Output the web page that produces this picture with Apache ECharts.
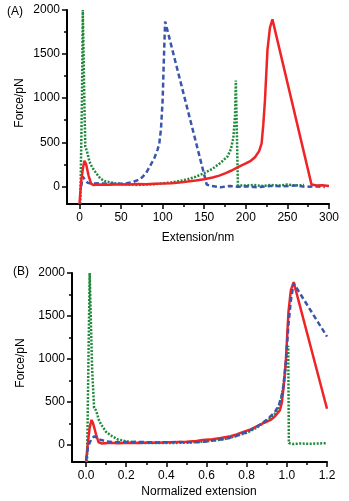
<!DOCTYPE html>
<html><head><meta charset="utf-8">
<script src="https://cdn.jsdelivr.net/npm/echarts@6/dist/echarts.min.js"></script>
<style>html,body{margin:0;padding:0;background:#fff}#c{width:349px;height:501px}</style>
</head><body><div id="c"></div>
<script>
// Panel A: extension (nm) vs force (pN)
const redA = [[0,-200],[2,50],[4,200],[6,290],[8,250],[11,120],[14,30],[17,15],[25,22],[35,18],[50,25],[60,22],[70,27],[80,25],[90,30],[100,32],[110,36],[120,45],[130,55],[140,66],[150,80],[160,100],[168,122],[175,148],[183,180],[190,216],[200,260],[206,290],[211,330],[216,400],[219,488],[221,700],[223,977],[226,1545],[229,1800],[232,1894],[279,20],[285,10],[292,12],[300,5]];
const blueA = [[2,0],[4,110],[7,70],[10,40],[15,30],[25,35],[35,28],[45,32],[55,30],[60,40],[64,48],[70,70],[75,100],[80,150],[84,216],[90,320],[94,420],[96,490],[98,650],[100,980],[101,1300],[102,1600],[103,1870],[153,20],[158,5],[170,-10],[180,5],[190,-5],[200,0],[215,-10],[230,5],[245,0],[260,10],[272,-5],[285,0],[295,-8]];
const greenA = [[1,-200],[3,1000],[4,2000],[6,900],[7,450],[9,400],[12,280],[15,220],[20,150],[25,90],[30,60],[40,40],[50,25],[60,20],[70,15],[80,20],[90,25],[100,35],[110,45],[120,60],[130,80],[140,110],[150,150],[160,200],[170,270],[178,340],[182,420],[185,550],[187,800],[188,1200],[190,1200],[190.5,10],[200,10],[210,15],[220,5],[230,15],[240,10],[250,20],[260,10],[270,15]];
// Panel B: normalized extension vs force (pN)
const redB = [[0,-200],[0.008,0],[0.018,200],[0.027,290],[0.035,250],[0.05,120],[0.062,30],[0.08,15],[0.12,25],[0.16,18],[0.22,25],[0.27,22],[0.31,28],[0.36,25],[0.4,30],[0.45,32],[0.5,35],[0.55,45],[0.58,55],[0.63,66],[0.67,80],[0.72,100],[0.75,122],[0.78,148],[0.82,180],[0.85,216],[0.89,260],[0.92,290],[0.94,330],[0.965,400],[0.975,488],[0.985,700],[0.995,977],[1.008,1545],[1.02,1800],[1.034,1894],[1.2,420]];
const blueB = [[0,-180],[0.01,-20],[0.025,60],[0.04,100],[0.07,60],[0.1,40],[0.15,30],[0.25,35],[0.35,28],[0.45,32],[0.55,30],[0.6,40],[0.65,55],[0.7,72],[0.75,105],[0.8,150],[0.85,210],[0.9,290],[0.94,380],[0.96,460],[0.98,620],[0.995,960],[1.008,1400],[1.02,1680],[1.034,1880],[1.2,1260]];
const greenB = [[0.005,-200],[0.012,1000],[0.018,2000],[0.03,900],[0.04,430],[0.05,400],[0.065,280],[0.08,220],[0.1,150],[0.13,100],[0.16,60],[0.2,40],[0.25,25],[0.3,20],[0.4,20],[0.5,25],[0.6,40],[0.7,70],[0.8,140],[0.85,200],[0.9,280],[0.95,380],[0.97,500],[0.99,800],[1.0,1050],[1.007,1150],[1.01,20],[1.03,10],[1.07,15],[1.12,12],[1.2,20]];
// Tick labels
const xTicksA = [0,50,100,150,200,250,300];
const xMinorA = [25,75,125,175,225,275];
const xTicksB = [0,0.2,0.4,0.6,0.8,1.0,1.2];
const xMinorB = [0.1,0.3,0.5,0.7,0.9,1.1];
const yTicks = [0,500,1000,1500,2000];
const yMinor = [250,750,1250,1750];

const FONT = 'Liberation Sans, Arial, sans-serif';
const RED = '#ee2426', BLUE = '#3a55ae', GREEN = '#1f8a3c';
const axisLine = {show:true, onZero:false, lineStyle:{color:'#000', width:2}};
const noLine = {show:false, onZero:false};
const lbl = {color:'#000', fontSize:12, fontFamily:FONT};

function xAxes(gi, min, max, major, minor, fmt){
  return [
    {type:'value', gridIndex:gi, min, max, position:'bottom', splitLine:{show:false}, axisLine,
     axisTick:{show:true, customValues:major, length:5, lineStyle:{color:'#000',width:1.5}},
     axisLabel:Object.assign({customValues:major, margin:8, formatter:fmt}, lbl)},
    {type:'value', gridIndex:gi, min, max, position:'bottom', splitLine:{show:false}, axisLine:noLine,
     axisTick:{show:true, customValues:minor, length:3, lineStyle:{color:'#000',width:1.5}},
     axisLabel:{show:false}}
  ];
}
function yAxes(gi){
  return [
    {type:'value', gridIndex:gi, min:-200, max:2000, position:'left', splitLine:{show:false}, axisLine,
     axisTick:{show:true, customValues:yTicks, length:5, lineStyle:{color:'#000',width:1.5}},
     axisLabel:Object.assign({customValues:yTicks, margin:7, formatter:v=>String(v)}, lbl)},
    {type:'value', gridIndex:gi, min:-200, max:2000, position:'left', splitLine:{show:false}, axisLine:noLine,
     axisTick:{show:true, customValues:yMinor, length:3, lineStyle:{color:'#000',width:1.5}},
     axisLabel:{show:false}}
  ];
}
function ser(data, xi, yi, color, type, width, z){
  return {type:'line', data, xAxisIndex:xi, yAxisIndex:yi, showSymbol:false, symbol:'none', silent:true, z,
    lineStyle:{color, width, type}, animation:false};
}

const chart = echarts.init(document.getElementById('c'), null, {renderer:'canvas'});
chart.setOption({
  animation:false,
  backgroundColor:'#fff',
  grid:[
    {left:67, top:10, width:262, height:194},
    {left:72, top:273, width:255, height:189}
  ],
  xAxis:[].concat(
    xAxes(0,-15,300,xTicksA,xMinorA,v=>String(v)),
    xAxes(1,-0.07,1.2,xTicksB,xMinorB,v=>v.toFixed(1))
  ),
  yAxis:[].concat(yAxes(0), yAxes(1)),
  series:[
    ser(greenA,0,0,GREEN,[2,1.5],2.5,3),
    ser(blueA,0,0,BLUE,[5,3],2.5,4),
    ser(redA,0,0,RED,'solid',2.5,5),
    ser(greenB,2,2,GREEN,[2,1.5],2.5,3),
    ser(redB,2,2,RED,'solid',2.5,4),
    ser(blueB,2,2,BLUE,[5,3],2.5,5)
  ],
  graphic:[
    {type:'text', left:7, top:6, style:{text:'(A)', fill:'#000', font:'12px '+FONT}},
    {type:'text', left:13, top:266, style:{text:'(B)', fill:'#000', font:'12px '+FONT}},
    {type:'text', x:14, y:103, rotation:Math.PI/2, style:{text:'Force/pN', fill:'#000', font:'12px '+FONT, align:'center', verticalAlign:'top'}},
    {type:'text', x:15, y:363, rotation:Math.PI/2, style:{text:'Force/pN', fill:'#000', font:'12px '+FONT, align:'center', verticalAlign:'top'}},
    {type:'text', x:198, y:238, style:{text:'Extension/nm', fill:'#000', font:'12px '+FONT, align:'center', verticalAlign:'middle'}},
    {type:'text', x:199, y:492, style:{text:'Normalized extension', fill:'#000', font:'12px '+FONT, align:'center', verticalAlign:'middle'}}
  ]
});
</script></body></html>
